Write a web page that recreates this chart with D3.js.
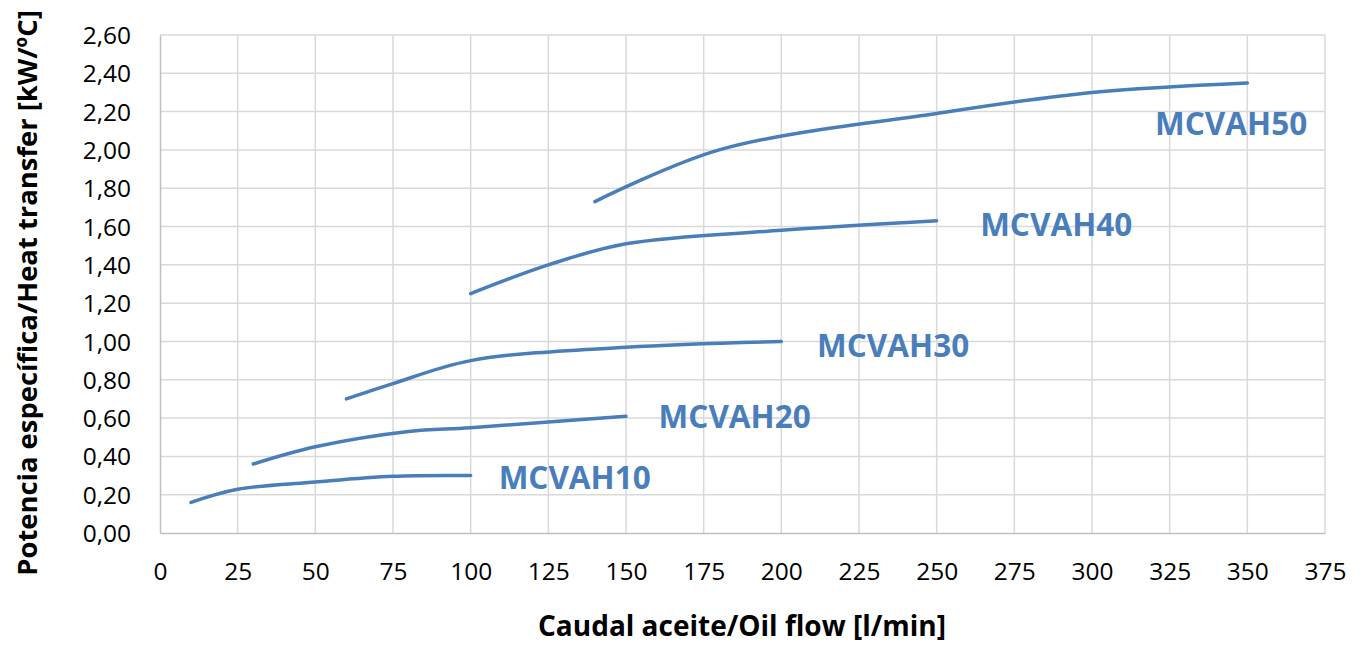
<!DOCTYPE html>
<html><head><meta charset="utf-8">
<script src="https://cdn.jsdelivr.net/npm/d3@7"></script>
<style>
html,body{margin:0;padding:0;background:#fff;}
svg{display:block;}
</style></head>
<body>
<svg id="chart" width="1362" height="645"></svg>
<script>
// ---- data ----
const xTicks = [0,25,50,75,100,125,150,175,200,225,250,275,300,325,350,375];
const yTicks = [0,0.2,0.4,0.6,0.8,1.0,1.2,1.4,1.6,1.8,2.0,2.2,2.4,2.6];
const seriesNames = ["MCVAH10","MCVAH20","MCVAH30","MCVAH40","MCVAH50"];
const mcvah10 = [[10,0.16],[25,0.228],[50,0.266],[75,0.296],[100,0.30]];
const mcvah20 = [[30,0.36],[50,0.45],[80,0.53],[100,0.55],[150,0.61]];
const mcvah30 = [[60,0.70],[75,0.78],[100,0.90],[150,0.97],[200,1.00]];
const mcvah40 = [[100,1.25],[125,1.40],[150,1.51],[200,1.58],[250,1.63]];
const mcvah50 = [[140,1.73],[180,2.00],[250,2.19],[300,2.30],[350,2.35]];
const labelAnchors = [[109,0.23],[160.5,0.55],[211.5,0.92],[264,1.55],[320.3,2.08]];
const xTitle = "Caudal aceite/Oil flow [l/min]";
const yTitle = "Potencia específica/Heat transfer [kW/ºC]";

// ---- layout ----
const pL=160, pR=1325, pT=35, pB=533;
const blue="#4a7ebb";
const font="'Open Sans','Liberation Sans',sans-serif";

const svg=d3.select("#chart");
const x=d3.scaleLinear().domain([0,375]).range([pL,pR]);
const y=d3.scaleLinear().domain([0,2.6]).range([pB,pT]);
const fmt=v=>d3.format(".2f")(v).replace(".",",");

// gridlines
svg.append("g").selectAll("line").data(yTicks.slice(1)).join("line")
  .attr("x1",pL).attr("x2",pR).attr("y1",d=>y(d)).attr("y2",d=>y(d))
  .attr("stroke","#d9d9d9").attr("stroke-width",1.5);
svg.append("g").selectAll("line").data(xTicks.slice(1)).join("line")
  .attr("x1",d=>x(d)).attr("x2",d=>x(d)).attr("y1",pT).attr("y2",pB)
  .attr("stroke","#d9d9d9").attr("stroke-width",1.5);

// axes
const xAxis=d3.axisBottom(x).tickValues(xTicks).tickSize(0).tickPadding(0).tickFormat(d3.format("d"));
const gx=svg.append("g").attr("transform",`translate(0,${pB})`).call(xAxis);
gx.select(".domain").attr("stroke","#bfbfbf").attr("stroke-width",1.5);
gx.selectAll("text").attr("dy",null).attr("y",47).attr("font-family",font).attr("font-size",24.5).attr("fill","#000");

const yAxis=d3.axisLeft(y).tickValues(yTicks).tickSize(0).tickPadding(0).tickFormat(fmt);
const gy=svg.append("g").attr("transform",`translate(${pL},0)`).call(yAxis);
gy.select(".domain").attr("stroke","#bfbfbf").attr("stroke-width",1.5);
gy.selectAll("text").attr("x",-29).attr("dy","0.35em").attr("font-family",font).attr("font-size",24.5).attr("fill","#000");

// lines
const line=d3.line().x(d=>x(d[0])).y(d=>y(d[1])).curve(d3.curveCatmullRom.alpha(0.5));
const allSeries=[mcvah10,mcvah20,mcvah30,mcvah40,mcvah50];
svg.append("g").selectAll("path").data(allSeries).join("path")
  .attr("d",line).attr("fill","none").attr("stroke",blue)
  .attr("stroke-width",3.5).attr("stroke-linecap","round").attr("stroke-linejoin","round");

// series labels
svg.append("g").selectAll("text").data(seriesNames).join("text")
  .attr("x",(d,i)=>x(labelAnchors[i][0])).attr("y",(d,i)=>y(labelAnchors[i][1]))
  .attr("font-family",font).attr("font-weight","bold").attr("font-size",31.5)
  .attr("fill",blue).text(d=>d);

// titles
svg.append("text").attr("x",742).attr("y",636).attr("text-anchor","middle")
  .attr("font-family",font).attr("font-weight","bold").attr("font-size",28).attr("fill","#000").text(xTitle);
svg.append("text").attr("transform","translate(37,293) rotate(-90)").attr("text-anchor","middle")
  .attr("font-family",font).attr("font-weight","bold").attr("font-size",27.4).attr("fill","#000").text(yTitle);
</script>
</body></html>
